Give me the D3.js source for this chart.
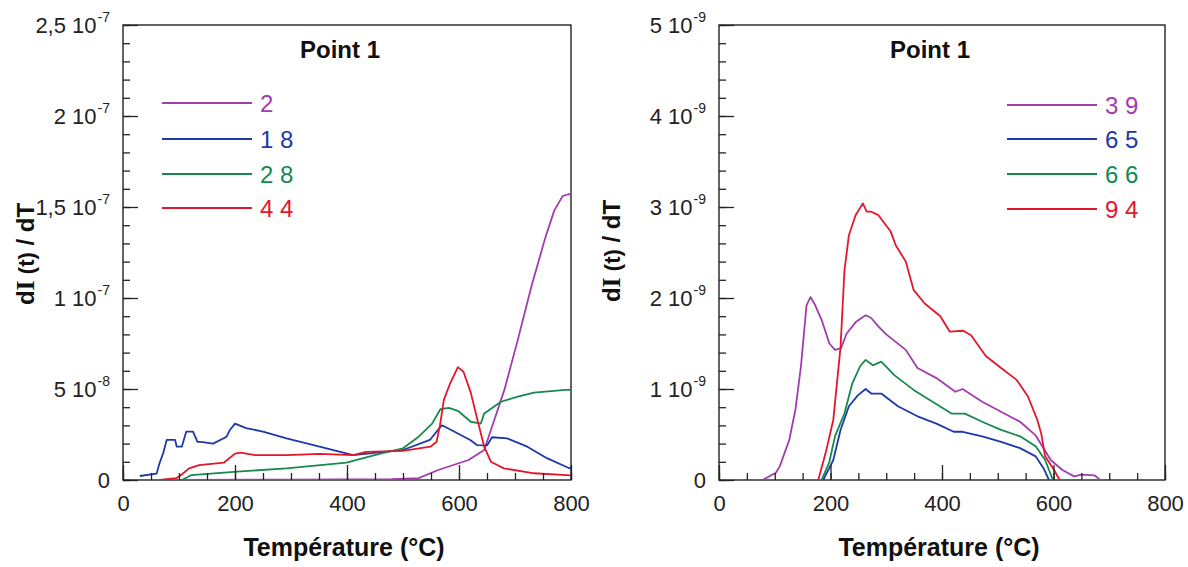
<!DOCTYPE html>
<html><head><meta charset="utf-8">
<script src="https://cdn.jsdelivr.net/npm/d3@7"></script>
<style>
html,body{margin:0;padding:0;background:#fff;}
svg{display:block;}
</style></head>
<body>
<svg id="chart" width="1188" height="567"></svg>
<script>
// ---------- DATA ----------
// Left panel (values in units of 1e-8)
const unitLeft = 1e-8;
const legendLeft = ["2", "1 8", "2 8", "4 4"];
const tLeft2  = [90, 300, 480, 528, 563, 617, 645, 663, 681, 705, 729, 753, 770, 785, 795, 800];
const vLeft2  = [0.0, 0.02, 0.05, 0.1, 0.55, 1.1, 1.65, 3.3, 4.95, 7.7, 10.6, 13.2, 14.8, 15.6, 15.7, 15.7];
const tLeft18 = [30, 60, 65, 72, 78, 93, 96, 105, 113, 125, 133, 139, 161, 185, 191, 200, 220, 250, 292, 351, 411, 441, 500, 548, 569, 575, 620, 632, 650, 659, 686, 722, 757, 796, 800];
const vLeft18 = [0.22, 0.35, 0.9, 1.5, 2.2, 2.2, 1.83, 1.83, 2.66, 2.66, 2.1, 2.1, 2.0, 2.38, 2.75, 3.1, 2.85, 2.66, 2.29, 1.83, 1.37, 1.46, 1.65, 2.2, 3.0, 2.93, 2.2, 1.92, 1.9, 2.35, 2.29, 1.83, 1.2, 0.66, 0.65];
const tLeft28 = [105, 115, 122, 204, 292, 399, 458, 500, 528, 552, 567, 582, 599, 621, 639, 645, 675, 705, 734, 790, 800];
const vLeft28 = [0, 0.15, 0.27, 0.46, 0.64, 0.95, 1.43, 1.74, 2.38, 3.1, 3.9, 3.96, 3.78, 3.2, 3.1, 3.66, 4.3, 4.58, 4.8, 4.95, 4.95];
const tLeft44 = [65, 95, 105, 118, 136, 180, 200, 210, 236, 292, 351, 411, 434, 500, 549, 560, 566, 573, 584, 598, 608, 621, 633, 645, 657, 680, 734, 800];
const vLeft44 = [0, 0.1, 0.3, 0.64, 0.82, 0.95, 1.45, 1.5, 1.37, 1.37, 1.43, 1.37, 1.55, 1.6, 1.83, 2.1, 3.0, 4.4, 5.3, 6.2, 5.95, 4.8, 3.3, 1.83, 1.0, 0.64, 0.37, 0.25];

// Right panel (values in units of 1e-9)
const unitRight = 1e-9;
const legendRight = ["3 9", "6 5", "6 6", "9 4"];
const tRight39 = [78, 102, 109, 126, 137, 147, 157, 164, 171, 184, 198, 208, 219, 229, 246, 263, 273, 287, 300, 335, 356, 390, 424, 437, 472, 506, 540, 568, 595, 616, 637, 650, 674, 684];
const vRight39 = [0, 0.08, 0.15, 0.44, 0.77, 1.25, 1.92, 2.01, 1.94, 1.76, 1.5, 1.43, 1.45, 1.61, 1.74, 1.81, 1.78, 1.68, 1.6, 1.43, 1.23, 1.12, 0.97, 1.0, 0.86, 0.75, 0.64, 0.49, 0.22, 0.11, 0.04, 0.06, 0.05, 0];
const tRight65 = [187, 205, 218, 233, 249, 263, 273, 291, 321, 356, 390, 421, 437, 472, 506, 540, 568, 582, 592];
const vRight65 = [0, 0.22, 0.55, 0.81, 0.93, 1.0, 0.95, 0.95, 0.81, 0.70, 0.62, 0.53, 0.53, 0.48, 0.42, 0.35, 0.26, 0.13, 0];
const tRight66 = [184, 198, 208, 225, 239, 253, 263, 276, 291, 315, 349, 383, 417, 441, 472, 506, 540, 568, 585, 599];
const vRight66 = [0, 0.2, 0.48, 0.73, 1.06, 1.25, 1.32, 1.26, 1.30, 1.15, 0.99, 0.86, 0.73, 0.73, 0.64, 0.55, 0.48, 0.37, 0.22, 0];
const tRight94 = [178, 191, 205, 218, 225, 233, 245, 258, 265, 272, 286, 308, 317, 335, 349, 369, 397, 414, 438, 452, 479, 506, 534, 554, 571, 578, 585, 601, 611];
const vRight94 = [0, 0.29, 0.66, 1.46, 2.3, 2.69, 2.91, 3.04, 2.95, 2.95, 2.91, 2.73, 2.58, 2.4, 2.09, 1.94, 1.8, 1.63, 1.64, 1.59, 1.36, 1.23, 1.10, 0.92, 0.66, 0.51, 0.26, 0.11, 0];

// Axis ticks / labels
const xTicks = [0, 200, 400, 600, 800];
const yTicksLeft = [0, 5e-8, 1e-7, 1.5e-7, 2e-7, 2.5e-7];
const yLabelsLeft = [["0", ""], ["5 10", "-8"], ["1 10", "-7"], ["1,5 10", "-7"], ["2 10", "-7"], ["2,5 10", "-7"]];
const yTicksRight = [0, 1e-9, 2e-9, 3e-9, 4e-9, 5e-9];
const yLabelsRight = [["0", ""], ["1 10", "-9"], ["2 10", "-9"], ["3 10", "-9"], ["4 10", "-9"], ["5 10", "-9"]];
const panelTitle = "Point 1";
const xTitle = "Température (°C)";

const colors = ["#a13cad", "#1d3aa8", "#17894e", "#e3172c"];

// ---------- DRAW ----------
const svg = d3.select("#chart");
const FONT = "'Liberation Sans Narrow','Arial Narrow','Liberation Sans',Arial,sans-serif";
const FONTB = "'Liberation Sans',Arial,sans-serif";

function panel(opt) {
  const x = d3.scaleLinear().domain([0, 800]).range([opt.x0, opt.x1]);
  const y = d3.scaleLinear().domain([0, opt.yMax]).range([opt.y1, opt.y0]);
  const g = svg.append("g");

  g.append("rect").attr("x", opt.x0).attr("y", opt.y0)
    .attr("width", opt.x1 - opt.x0).attr("height", opt.y1 - opt.y0)
    .attr("fill", "none").attr("stroke", "#222").attr("stroke-width", 1.4);

  const cid = "clip" + opt.id;
  svg.append("clipPath").attr("id", cid).append("rect")
    .attr("x", opt.x0).attr("y", opt.y0 - 2).attr("width", opt.x1 - opt.x0).attr("height", opt.y1 - opt.y0 + 2);

  const line = d3.line().x(d => x(d[0])).y(d => y(d[1]));
  opt.series.forEach((s, i) => {
    const pts = s.t.map((t, k) => [t, s.v[k] * opt.unit]);
    g.append("path").datum(pts).attr("d", line)
      .attr("fill", "none").attr("stroke", colors[i]).attr("stroke-width", 1.8)
      .attr("stroke-linejoin", "round").attr("clip-path", `url(#${cid})`);
  });

  const yMinor = d3.range(0, opt.yMax * 1.0001, opt.yMax / 25);
  g.append("g").attr("transform", `translate(${opt.x0},0)`)
    .call(d3.axisLeft(y).tickValues(yMinor).tickSize(-7).tickFormat(""))
    .call(a => a.select(".domain").remove())
    .call(a => a.selectAll("line").attr("stroke", "#222").attr("stroke-width", 1.3));
  const ya = g.append("g").attr("transform", `translate(${opt.x0},0)`)
    .call(d3.axisLeft(y).tickValues(opt.yTicks).tickSize(-15).tickPadding(13).tickFormat(""))
    .call(a => a.select(".domain").remove())
    .call(a => a.selectAll("line").attr("stroke", "#222").attr("stroke-width", 1.3));
  ya.selectAll(".tick text").each(function(d, i) {
    const t = d3.select(this);
    t.attr("font-family", FONT).attr("font-size", 22).attr("fill", "#222").attr("dy", "0.32em");
    const lab = opt.yLabels[i];
    t.append("tspan").text(lab[0]);
    if (lab[1]) t.append("tspan").attr("font-size", 14).attr("dy", "-0.75em").attr("dx", 1).text(lab[1]);
  });

  g.append("g").attr("transform", `translate(0,${opt.y1})`)
    .call(d3.axisBottom(x).tickValues(d3.range(0, 801, 50)).tickSize(-7).tickFormat(""))
    .call(a => a.select(".domain").remove())
    .call(a => a.selectAll("line").attr("stroke", "#222").attr("stroke-width", 1.3));
  g.append("g").attr("transform", `translate(0,${opt.y1})`)
    .call(d3.axisBottom(x).tickValues(xTicks).tickSize(-15).tickPadding(15).tickFormat(d3.format("d")))
    .call(a => a.select(".domain").remove())
    .call(a => a.selectAll("line").attr("stroke", "#222").attr("stroke-width", 1.3))
    .call(a => a.selectAll("text").attr("font-family", FONT).attr("font-size", 22).attr("fill", "#222"));

  svg.append("text").attr("x", opt.titleX).attr("y", 58).attr("text-anchor", "middle")
    .attr("font-family", FONTB).attr("font-weight", "bold").attr("font-size", 24).attr("fill", "#111")
    .text(panelTitle);
  svg.append("text").attr("x", (opt.x0 + opt.x1) / 2 - 3).attr("y", 556).attr("text-anchor", "middle")
    .attr("font-family", FONTB).attr("font-weight", "bold").attr("font-size", 25).attr("fill", "#111")
    .text(xTitle);
  const yt = svg.append("text")
    .attr("transform", `translate(${opt.yTitleX},${opt.yTitleY}) rotate(-90)`)
    .attr("text-anchor", "middle").attr("font-family", FONTB).attr("font-weight", "bold")
    .attr("font-size", 24).attr("fill", "#111");
  yt.append("tspan").text("d");
  yt.append("tspan").attr("font-family", "'Liberation Serif','Times New Roman',serif").attr("font-size", 26).text("I");
  yt.append("tspan").attr("font-size", 22).text(" (t)");
  yt.append("tspan").text(" / dT");

  opt.legend.forEach((lab, i) => {
    const ly = opt.legY[i];
    svg.append("line").attr("x1", opt.legX0).attr("x2", opt.legX1).attr("y1", ly).attr("y2", ly)
      .attr("stroke", colors[i]).attr("stroke-width", 1.8);
    svg.append("text").attr("x", opt.legX1 + 8).attr("y", ly + 9)
      .attr("font-family", FONTB).attr("font-size", 24).attr("fill", colors[i])
      .text(lab);
  });
}

panel({
  id: "L", x0: 123, x1: 571, y0: 25, y1: 480, yMax: 2.5e-7, unit: unitLeft,
  yTicks: yTicksLeft, yLabels: yLabelsLeft,
  series: [{t: tLeft2, v: vLeft2}, {t: tLeft18, v: vLeft18}, {t: tLeft28, v: vLeft28}, {t: tLeft44, v: vLeft44}],
  legend: legendLeft, legX0: 162, legX1: 252, legY: [103, 139, 174, 208],
  titleX: 340, yTitleX: 34, yTitleY: 254
});
panel({
  id: "R", x0: 719, x1: 1165, y0: 25, y1: 480, yMax: 5e-9, unit: unitRight,
  yTicks: yTicksRight, yLabels: yLabelsRight,
  series: [{t: tRight39, v: vRight39}, {t: tRight65, v: vRight65}, {t: tRight66, v: vRight66}, {t: tRight94, v: vRight94}],
  legend: legendRight, legX0: 1007, legX1: 1097, legY: [105, 139, 174, 209],
  titleX: 930, yTitleX: 620, yTitleY: 251
});
</script>
</body></html>
